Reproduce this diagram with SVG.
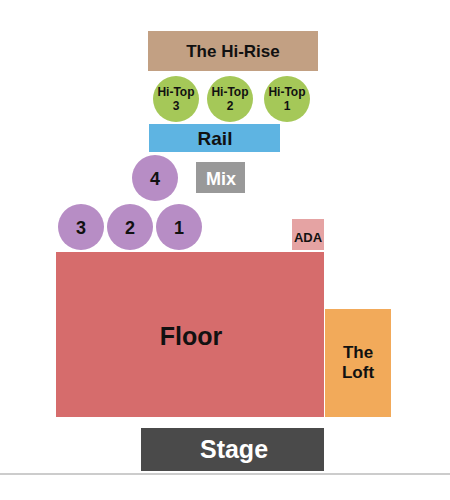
<svg xmlns="http://www.w3.org/2000/svg" width="450" height="500" viewBox="0 0 450 500">
<style>
text{font-family:"Liberation Sans",Arial,sans-serif;font-weight:bold;text-anchor:middle;fill:#111111}
.ht{font-size:12px}
.num{font-size:18px}
.w{fill:#ffffff}
</style>
<rect width="450" height="500" fill="#ffffff"/>
<g id="hirise"><rect x="148" y="31" width="170" height="40" fill="#C2A083"/><text x="233" y="57" font-size="17">The Hi-Rise</text></g>
<g id="hitop3"><circle cx="176" cy="99" r="23" fill="#A5C858"/><text class="ht" x="176" y="96">Hi-Top</text><text class="ht" x="176" y="110">3</text></g>
<g id="hitop2"><circle cx="230" cy="99" r="23" fill="#A5C858"/><text class="ht" x="230" y="96">Hi-Top</text><text class="ht" x="230" y="110">2</text></g>
<g id="hitop1"><circle cx="287" cy="99" r="23" fill="#A5C858"/><text class="ht" x="287" y="96">Hi-Top</text><text class="ht" x="287" y="110">1</text></g>
<g id="rail"><rect x="149" y="124" width="131" height="28" fill="#5EB4E2"/><text x="215" y="145" font-size="19">Rail</text></g>
<g id="t4"><circle cx="155" cy="178" r="23" fill="#B78DC5"/><text class="num" x="155" y="185">4</text></g>
<g id="mix"><rect x="196" y="162" width="49" height="31" fill="#999999"/><text class="w" x="221" y="185" font-size="18">Mix</text></g>
<g id="t3"><circle cx="81" cy="227" r="23" fill="#B78DC5"/><text class="num" x="81" y="234">3</text></g>
<g id="t2"><circle cx="130" cy="227" r="23" fill="#B78DC5"/><text class="num" x="130" y="234">2</text></g>
<g id="t1"><circle cx="179" cy="227" r="23" fill="#B78DC5"/><text class="num" x="179" y="234">1</text></g>
<g id="ada"><rect x="292" y="219" width="32" height="31" fill="#E5A3A3"/><text x="308" y="242" font-size="13">ADA</text></g>
<g id="floor"><rect x="56" y="252" width="268" height="165" fill="#D66C6C"/><text x="191" y="345" font-size="25">Floor</text></g>
<g id="loft"><rect x="325" y="309" width="66" height="108" fill="#F2AA5A"/><text x="358" y="358" font-size="17">The</text><text x="358" y="378" font-size="17">Loft</text></g>
<g id="stage"><rect x="141" y="428" width="183" height="43" fill="#4A4A4A"/><text class="w" x="234" y="458" font-size="25">Stage</text></g>
<line x1="0" y1="474" x2="450" y2="474" stroke="#999999" stroke-width="1"/>
</svg>
